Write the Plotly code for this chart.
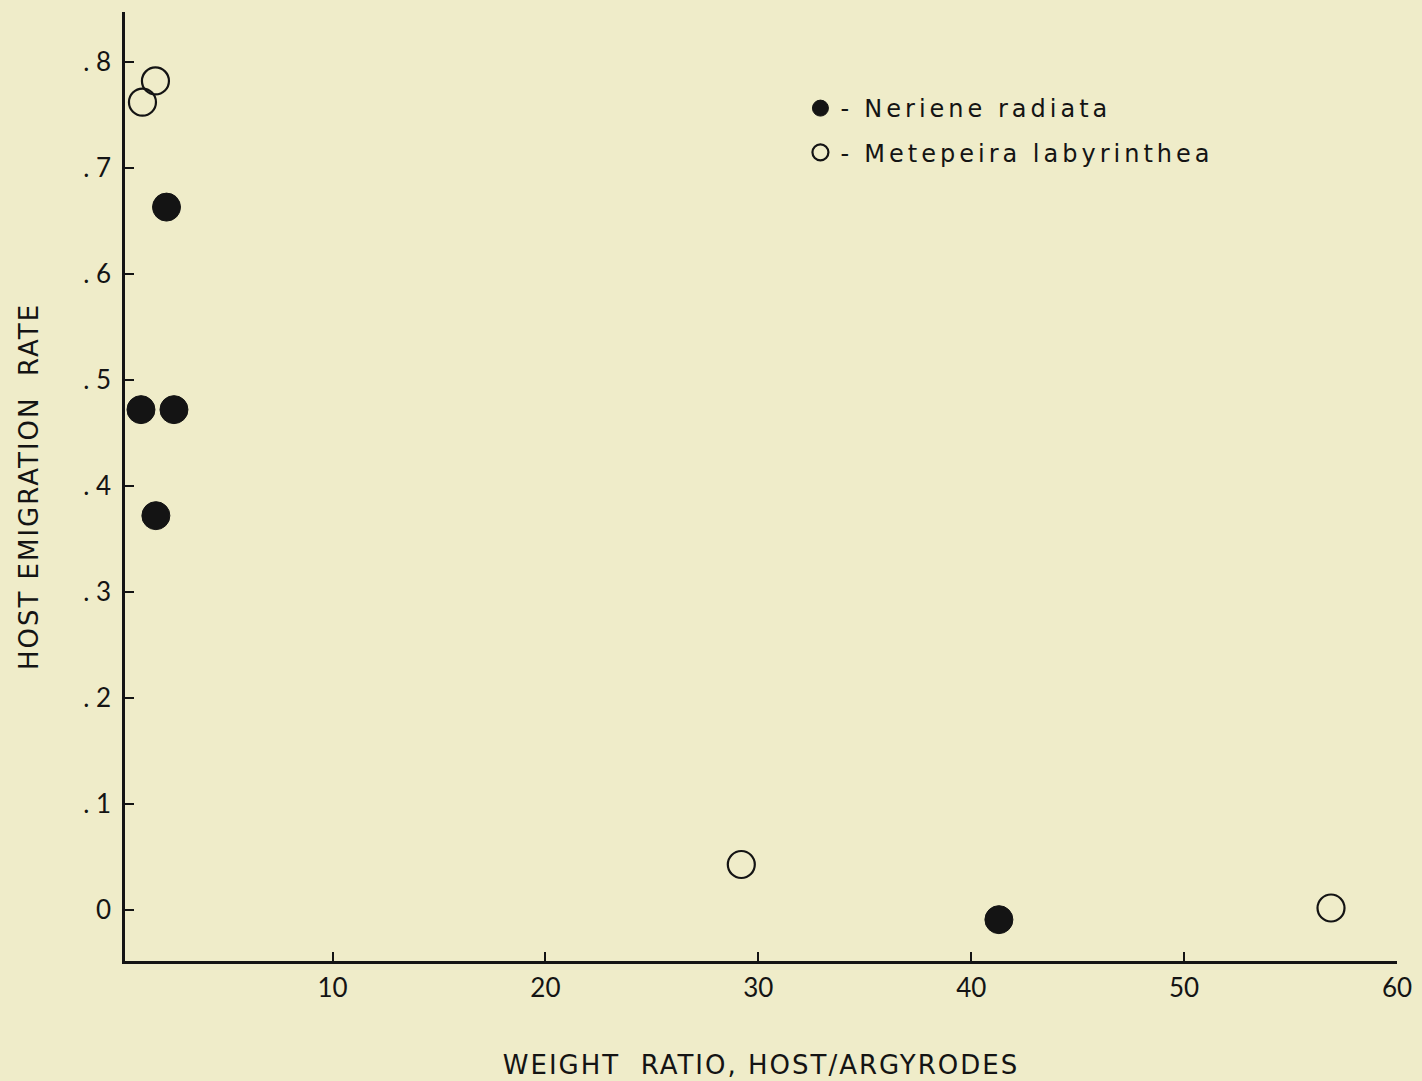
import plotly.graph_objects as go

# Data
neriene_x = [2.2, 1.0, 2.55, 1.7, 41.3]
neriene_y = [0.663, 0.472, 0.472, 0.372, -0.009]
metepeira_x = [1.07, 1.68, 29.2, 56.9]
metepeira_y = [0.762, 0.782, 0.043, 0.002]

x_tickvals = [10, 20, 30, 40, 50, 60]
x_ticktext = ["10", "20", "30", "40", "50", "60"]
y_tickvals = [0, 0.1, 0.2, 0.3, 0.4, 0.5, 0.6, 0.7, 0.8]
y_ticktext = ["0", ". 1", ". 2", ". 3", ". 4", ". 5", ". 6", ". 7", ". 8"]

legend_names = ["Neriene radiata", "Metepeira labyrinthea"]
x_title = "WEIGHT  RATIO, HOST/ARGYRODES"
y_title = "HOST EMIGRATION  RATE"

BG = "#efecc9"
INK = "#141414"
TICKFONT = dict(family="Lato, DejaVu Sans, sans-serif", size=26, color=INK)
TITLEFONT = dict(family="DejaVu Sans, Arial, sans-serif", size=26, color=INK)


def spaced(text, px):
    return '<span style="letter-spacing:%spx">%s</span>' % (px, text)


fig = go.Figure()
fig.add_trace(go.Scatter(
    x=neriene_x, y=neriene_y, mode="markers", name="-  " + spaced(legend_names[0], 4),
    legendgroup="a",
    marker=dict(size=28, color=INK, line=dict(color=INK, width=1)),
))
fig.add_trace(go.Scatter(
    x=metepeira_x, y=metepeira_y, mode="markers", name="-  " + spaced(legend_names[1], 4),
    legendgroup="b",
    marker=dict(size=27, color="rgba(0,0,0,0)", line=dict(color=INK, width=2.2)),
))

fig.update_layout(
    width=1422, height=1081,
    paper_bgcolor=BG, plot_bgcolor=BG,
    margin=dict(l=125, r=25, t=12, b=120),
    showlegend=True,
    legend=dict(
        x=0.531, y=0.922, xanchor="left", yanchor="top",
        bgcolor="rgba(0,0,0,0)",
        font=dict(family="DejaVu Sans, sans-serif", size=24, color=INK),
        tracegroupgap=10, itemwidth=30,
    ),
    xaxis=dict(
        range=[0.25, 60], showgrid=False, zeroline=False, automargin=False,
        showline=True, linecolor=INK, linewidth=2.5,
        ticks="inside", ticklen=9, tickwidth=2, tickcolor=INK,
        tickvals=x_tickvals, ticktext=x_ticktext, tickfont=TICKFONT,
        ticklabelstandoff=2,
        title=dict(text=spaced(x_title, 2), font=TITLEFONT, standoff=54),
    ),
    yaxis=dict(
        range=[-0.048, 0.847], showgrid=False, zeroline=False, automargin=False,
        showline=True, linecolor=INK, linewidth=2.5,
        ticks="inside", ticklen=9, tickwidth=2, tickcolor=INK,
        tickvals=y_tickvals, ticktext=y_ticktext, tickfont=TICKFONT,
        ticklabelstandoff=6,
        title=dict(text=spaced(y_title, 2), font=TITLEFONT, standoff=38),
    ),
)

fig.write_html(
    "out.html",
    config={"displayModeBar": False},
    post_script="document.body.style.margin='0';document.body.style.background='%s';" % BG,
)
